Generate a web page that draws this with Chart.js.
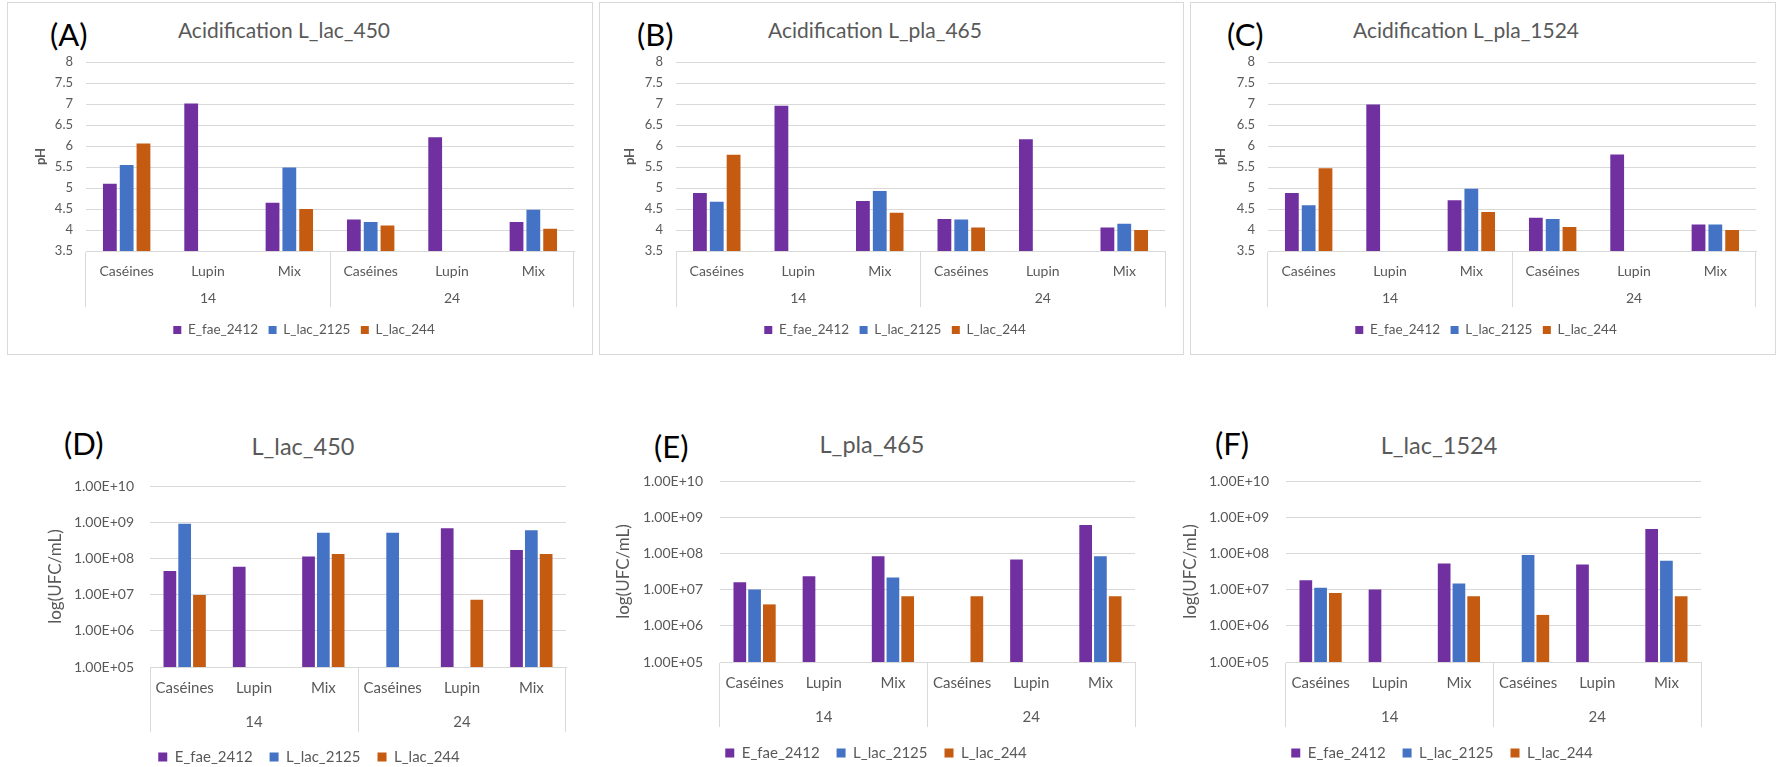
<!DOCTYPE html>
<html>
<head>
<meta charset="utf-8">
<script src="https://cdn.jsdelivr.net/npm/chart.js@4.4.1/dist/chart.umd.min.js"></script>
<style>
  body { margin: 0; width: 1777px; height: 767px; overflow: hidden; background: #fff; font-family: Lato, sans-serif; }
  .box { position: absolute; top: 2px; height: 351px; border: 1px solid #d9d9d9; }
  .letter { position: absolute; font-size: 31px; line-height: 1; color: #000; transform: translateY(-50%); }
  .title { position: absolute; line-height: 1; color: #595959; white-space: nowrap; transform: translate(-50%, -50%); }
  canvas { position: absolute; }
</style>
</head>
<body>
<div class="box" style="left:7px;width:584px"></div>
<div class="box" style="left:599px;width:583px"></div>
<div class="box" style="left:1190px;width:584px"></div>

<div class="letter" style="left:50px;top:34px">(A)</div>
<div class="letter" style="left:637px;top:34px">(B)</div>
<div class="letter" style="left:1227px;top:34px">(C)</div>
<div class="letter" style="left:64px;top:443px">(D)</div>
<div class="letter" style="left:654px;top:446px">(E)</div>
<div class="letter" style="left:1215px;top:443px">(F)</div>

<div class="title" style="left:284px;top:29px;font-size:21px">Acidification L_lac_450</div>
<div class="title" style="left:875px;top:29px;font-size:21px">Acidification L_pla_465</div>
<div class="title" style="left:1466px;top:29px;font-size:21px">Acidification L_pla_1524</div>
<div class="title" style="left:303px;top:447px;font-size:23.5px">L_lac_450</div>
<div class="title" style="left:872px;top:445px;font-size:23.5px">L_pla_465</div>
<div class="title" style="left:1439px;top:446px;font-size:23.5px">L_lac_1524</div>

<script>
// categories
const sampleTypes = ['Caséines', 'Lupin', 'Mix'];
const days = ['14', '24'];
const strains = ['E_fae_2412', 'L_lac_2125', 'L_lac_244'];

// tick values
const phTicks = [3.5, 4, 4.5, 5, 5.5, 6, 6.5, 7, 7.5, 8];
const ufcTicks = [1e5, 1e6, 1e7, 1e8, 1e9, 1e10];

// pH, order: 14 Caséines / Lupin / Mix, then 24 Caséines / Lupin / Mix
const phA_fae2412 = [5.10, 7.01, 4.65, 4.25, 6.21, 4.19];
const phA_lac2125 = [5.55, null, 5.49, 4.19, null, 4.48];
const phA_lac244  = [6.06, null, 4.50, 4.11, null, 4.03];

const phB_fae2412 = [4.88, 6.96, 4.69, 4.26, 6.16, 4.06];
const phB_lac2125 = [4.67, null, 4.93, 4.25, null, 4.15];
const phB_lac244  = [5.79, null, 4.41, 4.06, null, 4.00];

const phC_fae2412 = [4.88, 6.99, 4.71, 4.29, 5.80, 4.13];
const phC_lac2125 = [4.59, null, 4.98, 4.26, null, 4.13];
const phC_lac244  = [5.47, null, 4.43, 4.07, null, 4.00];

// UFC/mL, same order
const ufcD_fae2412 = [4.5e7, 5.9e7, 1.12e8, null, 6.8e8, 1.7e8];
const ufcD_lac2125 = [9.0e8, null, 5.1e8, 5.1e8, null, 6.0e8];
const ufcD_lac244  = [9.8e6, null, 1.32e8, null, 7.2e6, 1.32e8];

const ufcE_fae2412 = [1.6e7, 2.35e7, 8.4e7, null, 6.8e7, 6.1e8];
const ufcE_lac2125 = [1.0e7, null, 2.15e7, null, null, 8.4e7];
const ufcE_lac244  = [3.9e6, null, 6.5e6, 6.5e6, null, 6.5e6];

const ufcF_fae2412 = [1.8e7, 1.0e7, 5.3e7, null, 4.9e7, 4.7e8];
const ufcF_lac2125 = [1.12e7, null, 1.48e7, 9.1e7, null, 6.3e7];
const ufcF_lac244  = [8.0e6, null, 6.5e6, 2.0e6, null, 6.5e6];

const strainColors = ['#7030A0', '#4472C4', '#C55A11'];
const textGrey = '#595959';
const gridGrey = '#d9d9d9';
const fontFamily = 'Lato, sans-serif';

// two line labels, the day sits under the middle sample type
function categoryLabels() {
    const out = [];
    days.forEach(d => sampleTypes.forEach((s, i) => out.push([s, i === 1 ? d : ''])));
    return out;
}

// 1e8 -> "1.00E+08"
function sci(v) {
    const e = Math.round(Math.log10(v));
    return (v / Math.pow(10, e)).toFixed(2) + 'E+' + String(e).padStart(2, '0');
}

// vertical separators only at the edges of each day group
function separatorColor(c) {
    if (c.index === undefined || c.index % sampleTypes.length === 0) return gridGrey;
    return 'rgba(0,0,0,0)';
}

function makePanel(p) {
    const canvas = document.createElement('canvas');
    canvas.width = p.w;
    canvas.height = p.h;
    canvas.style.left = p.x + 'px';
    canvas.style.top = p.y + 'px';
    document.body.appendChild(canvas);

    const yAxis = p.log ? {
        type: 'logarithmic', min: ufcTicks[0], max: ufcTicks[ufcTicks.length - 1],
        afterBuildTicks: s => { s.ticks = ufcTicks.map(v => ({ value: v })); },
        ticks: { callback: v => sci(v) }
    } : {
        type: 'linear', min: phTicks[0], max: phTicks[phTicks.length - 1],
        afterBuildTicks: s => { s.ticks = phTicks.map(v => ({ value: v })); },
        ticks: { callback: v => String(v) }
    };
    Object.assign(yAxis.ticks, { color: textGrey, font: { family: fontFamily, size: p.yFont }, padding: p.yPad });
    Object.assign(yAxis, {
        grid: { color: gridGrey, drawTicks: false },
        border: { display: false },
        title: {
            display: true, text: p.yTitle, color: textGrey,
            font: { family: fontFamily, size: p.yTitleFont, weight: p.log ? 'normal' : 'bold', lineHeight: 1.2 },
            padding: { top: p.yTitlePad, bottom: 0 }
        },
        afterFit: s => { s.width = p.yW; }
    });

    new Chart(canvas.getContext('2d'), {
        type: 'bar',
        data: {
            labels: categoryLabels(),
            datasets: strains.map((name, i) => ({
                label: name,
                data: p.series[i],
                backgroundColor: strainColors[i],
                borderWidth: 0,
                categoryPercentage: p.catPct,
                barPercentage: p.barPct
            }))
        },
        options: {
            responsive: false,
            animation: false,
            devicePixelRatio: 1,
            layout: { padding: { left: p.padL, right: p.padR, top: p.padT, bottom: p.padB } },
            scales: {
                x: {
                    offset: true,
                    ticks: {
                        // mirror keeps the labels free of the tick length and unclipped
                        mirror: true,
                        color: textGrey,
                        font: { family: fontFamily, size: p.catFont, lineHeight: p.rowGap / p.catFont },
                        padding: p.labelPad,
                        maxRotation: 0, minRotation: 0, autoSkip: false
                    },
                    grid: { offset: true, drawOnChartArea: false, drawTicks: true, tickLength: p.sepLen, color: separatorColor },
                    border: { display: true, color: gridGrey },
                    afterFit: s => { s.height = p.xH; }
                },
                y: yAxis
            },
            plugins: {
                tooltip: { enabled: false },
                legend: {
                    position: 'bottom',
                    labels: {
                        boxWidth: p.box, boxHeight: p.box, color: textGrey,
                        font: { family: fontFamily, size: p.legFont }, padding: p.legPad
                    }
                }
            }
        }
    });
}

// shared geometry for the pH row and the counts row
const topRow = {
    y: 0, h: 360, padT: 62, padB: 13.25, xH: 61.75, sepLen: 56, labelPad: -33.5, rowGap: 27,
    catFont: 14, yFont: 13, yPad: 13, yTitle: 'pH', yTitleFont: 13,
    legFont: 13.5, legPad: 10.5, box: 8, catPct: 0.62, barPct: 0.82, log: false
};
const bottomRow = {
    y: 400, h: 380, sepLen: 65, labelPad: -38, rowGap: 34,
    catFont: 15, yFont: 14, yTitle: 'log(UFC/mL)', yTitleFont: 17,
    legFont: 15, legPad: 17, box: 9, catPct: 0.64, barPct: 0.86, log: true
};

makePanel(Object.assign({}, topRow, { x: 0, w: 590, padL: 34, padR: 16, yW: 52, yTitlePad: -1.3,
    series: [phA_fae2412, phA_lac2125, phA_lac244] }));
makePanel(Object.assign({}, topRow, { x: 590, w: 590, padL: 35, padR: 15, yW: 51, yTitlePad: -2.8,
    series: [phB_fae2412, phB_lac2125, phB_lac244] }));
makePanel(Object.assign({}, topRow, { x: 1180, w: 597, padL: 36, padR: 21, yW: 52, yTitlePad: -2.8,
    series: [phC_fae2412, phC_lac2125, phC_lac244] }));

makePanel(Object.assign({}, bottomRow, { x: 0, w: 590, padL: 52, padR: 24, padT: 86, padB: 5.5, xH: 65.5, yW: 98, yPad: 16, yTitlePad: -6.2,
    series: [ufcD_fae2412, ufcD_lac2125, ufcD_lac244] }));
makePanel(Object.assign({}, bottomRow, { x: 590, w: 590, padL: 27, padR: 45, padT: 81, padB: 9.5, xH: 66.5, yW: 103, yPad: 17, yTitlePad: -3.2,
    series: [ufcE_fae2412, ufcE_lac2125, ufcE_lac244] }));
makePanel(Object.assign({}, bottomRow, { x: 1180, w: 597, padL: 3, padR: 76, padT: 81, padB: 9.5, xH: 66.5, yW: 103, yPad: 17, yTitlePad: -2.2,
    series: [ufcF_fae2412, ufcF_lac2125, ufcF_lac244] }));
</script>
</body>
</html>
